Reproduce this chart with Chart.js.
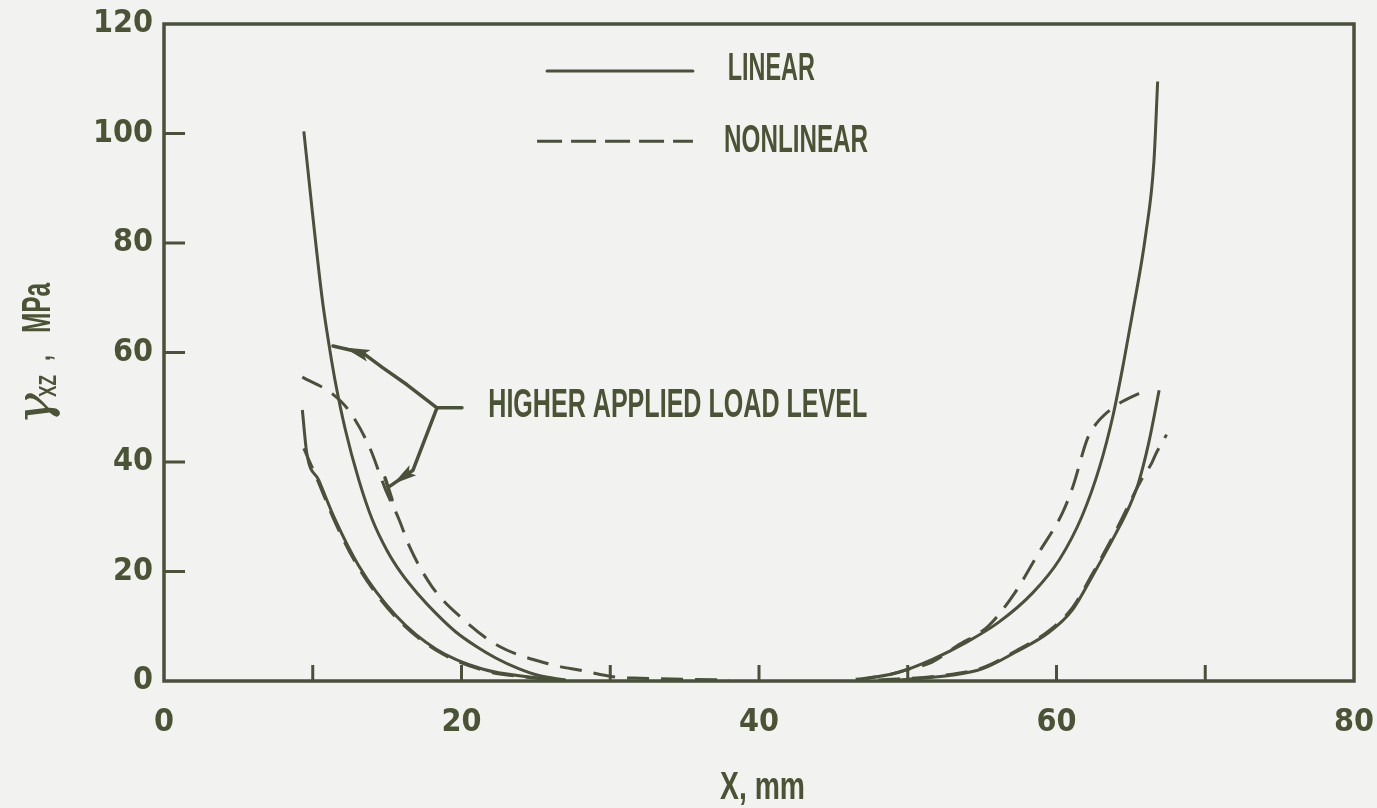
<!DOCTYPE html>
<html>
<head>
<meta charset="utf-8">
<script src="https://cdn.jsdelivr.net/npm/chart.js@4/dist/chart.umd.min.js"></script>
<style>
  html, body { margin: 0; padding: 0; background: #f2f2f0; }
  #c { display: block; }
</style>
</head>
<body>
<canvas id="c" width="1377" height="808"></canvas>
<script>
// Shear stress gamma_xz along X, linear vs nonlinear analysis, two load levels

const xTicks = [0, 10, 20, 30, 40, 50, 60, 70, 80];
const yTicks = [0, 20, 40, 60, 80, 100, 120];

// Linear analysis, higher load, left edge
const linHighLeftX = [9.4, 10.0, 10.65, 11.1, 11.5, 12.2, 13.1, 14.0, 15.0, 16.0, 17.1, 18.3, 19.6, 21.0, 22.3, 23.8, 25.2, 27.0];
const linHighLeftY = [100.4, 85.0, 69.5, 61.3, 54.9, 45.8, 36.7, 29.5, 23.8, 19.5, 15.8, 12.3, 9.0, 6.3, 4.2, 2.3, 1.0, 0.2];
// Linear analysis, lower load, left edge
const linLowLeftX = [9.3, 9.6, 10.4, 11.5, 13.1, 15.6, 18.3, 21.4, 24.7, 27.0];
const linLowLeftY = [49.5, 41.6, 36.7, 29.5, 21.0, 11.9, 5.8, 2.2, 0.7, 0.1];
// Nonlinear analysis, higher load, left edge
const nonHighLeftX = [9.3, 11.3, 12.4, 13.8, 14.9, 15.8, 16.5, 18.0, 20.1, 22.5, 25.9, 28.1, 30.4, 32.0, 35.0, 38.0];
const nonHighLeftY = [55.5, 52.5, 49.5, 42.8, 34.9, 29.5, 24.6, 17.3, 11.3, 6.4, 3.1, 1.9, 0.7, 0.5, 0.3, 0.2];
// Nonlinear analysis, lower load, left edge
const nonLowLeftX = [9.4, 10.4, 11.5, 13.1, 15.6, 18.3, 21.4, 24.7, 27.0];
const nonLowLeftY = [42.5, 36.2, 29.0, 20.6, 11.6, 5.6, 2.0, 0.6, 0.1];

// Linear analysis, higher load, right edge
const linHighRightX = [47.2, 49.4, 51.7, 53.9, 56.1, 58.4, 60.2, 61.7, 62.9, 63.8, 64.5, 65.1, 66.0, 66.55, 66.8];
const linHighRightY = [0.4, 1.6, 4.0, 7.0, 10.7, 16.1, 22.2, 30.0, 39.1, 48.5, 58.0, 67.0, 81.6, 94.9, 109.5];
// Linear analysis, lower load, right edge
const linLowRightX = [49.4, 52.8, 55.0, 57.2, 59.5, 61.1, 62.4, 64.0, 64.9, 65.5, 66.2, 66.9];
const linLowRightY = [0.2, 1.0, 2.2, 5.2, 8.9, 13.1, 19.1, 27.0, 31.9, 36.1, 43.5, 53.1];
// Nonlinear analysis, higher load, right edge
const nonHighRightX = [46.5, 48.5, 50.1, 51.6, 53.3, 55.4, 57.2, 58.8, 60.4, 61.1, 62.1, 62.7, 63.6, 64.4, 66.1];
const nonHighRightY = [0.3, 1.0, 2.2, 3.4, 6.4, 10.0, 16.1, 23.4, 30.7, 35.5, 44.4, 47.1, 49.5, 51.0, 53.2];
// Nonlinear analysis, lower load, right edge
const nonLowRightX = [48.0, 52.0, 55.0, 57.2, 59.5, 61.1, 62.4, 64.0, 65.7, 66.4, 66.7, 67.4];
const nonLowRightY = [0.2, 0.9, 2.4, 5.4, 9.2, 13.5, 19.5, 27.5, 36.7, 39.8, 41.6, 45.0];

const legendLabels = ['LINEAR', 'NONLINEAR'];
const noteText = 'HIGHER APPLIED LOAD LEVEL';

const INK = '#4a5039';
const TEXT_INK = '#4b5335';
const BG = '#f2f2f0';
const TICK_FONT = '"Liberation Sans Narrow", "DejaVu Sans Condensed", "Liberation Sans", sans-serif';
const DASH = [22, 12];

function pts(xs, ys) { return xs.map((x, i) => ({ x: x, y: ys[i] })); }
function series(xs, ys, dashed) {
  return {
    data: pts(xs, ys),
    borderColor: INK,
    borderWidth: 3,
    borderDash: dashed ? DASH : [],
    pointRadius: 0,
    fill: false,
    cubicInterpolationMode: 'monotone'
  };
}

const datasets = [
  series(linHighLeftX, linHighLeftY, false),
  series(linLowLeftX, linLowLeftY, false),
  series(nonHighLeftX, nonHighLeftY, true),
  series(nonLowLeftX, nonLowLeftY, true),
  series(linHighRightX, linHighRightY, false),
  series(linLowRightX, linLowRightY, false),
  series(nonHighRightX, nonHighRightY, true),
  series(nonLowRightX, nonLowRightY, true)
];

// bold text squeezed horizontally to a given width (the typeface is very condensed)
function squeezedText(ctx, str, x, y, size, width, family) {
  ctx.save();
  ctx.font = 'bold ' + size + 'px ' + (family || '"Liberation Sans", "DejaVu Sans", sans-serif');
  const w = ctx.measureText(str).width;
  ctx.translate(x, y);
  ctx.scale(width / w, 1);
  ctx.textAlign = 'left';
  ctx.textBaseline = 'alphabetic';
  ctx.fillText(str, 0, 0);
  ctx.restore();
}

function arrowHead(ctx, fromX, fromY, tipX, tipY, len, half) {
  const a = Math.atan2(tipY - fromY, tipX - fromX);
  ctx.save();
  ctx.translate(tipX, tipY);
  ctx.rotate(a);
  ctx.beginPath();
  ctx.moveTo(0, 0);
  ctx.lineTo(-len, -half);
  ctx.lineTo(-len * 0.8, 0);
  ctx.lineTo(-len, half);
  ctx.closePath();
  ctx.fill();
  ctx.restore();
}

const decorPlugin = {
  id: 'decor',
  beforeDraw(chart) {
    const ctx = chart.ctx;
    ctx.save();
    ctx.fillStyle = BG;
    ctx.fillRect(0, 0, chart.width, chart.height);
    ctx.restore();
  },
  beforeDatasetsDraw(chart) {
    const ctx = chart.ctx;
    const a = chart.chartArea;
    const xs = chart.scales.x, ys = chart.scales.y;
    ctx.save();
    ctx.strokeStyle = INK;
    ctx.lineCap = 'butt';
    // frame
    ctx.lineWidth = 3.5;
    ctx.strokeRect(a.left, a.top, a.right - a.left, a.bottom - a.top);
    // inward tick marks
    ctx.lineWidth = 3;
    xTicks.forEach(v => {
      if (v === xTicks[0] || v === xTicks[xTicks.length - 1]) return;
      const px = xs.getPixelForValue(v);
      ctx.beginPath();
      ctx.moveTo(px, a.bottom);
      ctx.lineTo(px, a.bottom - 16);
      ctx.stroke();
    });
    yTicks.forEach(v => {
      if (v === yTicks[0] || v === yTicks[yTicks.length - 1]) return;
      const py = ys.getPixelForValue(v);
      ctx.beginPath();
      ctx.moveTo(a.left, py);
      ctx.lineTo(a.left + 21, py);
      ctx.stroke();
    });
    ctx.restore();
  },
  afterDatasetsDraw(chart) {
    const ctx = chart.ctx;
    const xs = chart.scales.x, ys = chart.scales.y;
    const X = v => xs.getPixelForValue(v);
    const Y = v => ys.getPixelForValue(v);
    ctx.save();
    ctx.strokeStyle = INK;
    ctx.fillStyle = TEXT_INK;
    ctx.lineWidth = 3;
    ctx.lineCap = 'round';

    // legend
    ctx.beginPath();
    ctx.moveTo(X(25.75), Y(111.4));
    ctx.lineTo(X(35.56), Y(111.4));
    ctx.stroke();
    ctx.save();
    ctx.setLineDash([25, 9]);
    ctx.lineCap = 'butt';
    ctx.beginPath();
    ctx.moveTo(X(25.08), Y(98.6));
    ctx.lineTo(X(35.56), Y(98.6));
    ctx.stroke();
    ctx.restore();
    squeezedText(ctx, legendLabels[0], X(37.9), Y(109.8), 38, 87);
    squeezedText(ctx, legendLabels[1], X(37.65), Y(96.6), 38, 144);

    // annotation: callout arrows to the higher-load curves
    ctx.lineWidth = 3.5;
    ctx.lineJoin = 'round';
    ctx.beginPath();
    ctx.moveTo(X(20.03), Y(49.9));
    ctx.lineTo(X(18.35), Y(49.9));
    ctx.lineTo(X(16.34), Y(54.1));
    ctx.lineTo(X(14.72), Y(57.2));
    ctx.lineTo(X(13.38), Y(59.9));
    ctx.lineTo(X(11.36), Y(61.2));
    ctx.stroke();
    ctx.fillStyle = INK;
    arrowHead(ctx, X(14.0), Y(59.2), X(12.1), Y(60.9), 26, 6);

    ctx.beginPath();
    ctx.moveTo(X(18.35), Y(49.9));
    ctx.lineTo(X(16.74), Y(38.5));
    ctx.lineTo(X(15.19), Y(35.6));
    ctx.stroke();
    arrowHead(ctx, X(16.74), Y(38.5), X(15.4), Y(36.0), 24, 6);
    ctx.beginPath();
    ctx.moveTo(X(14.86), Y(37.1));
    ctx.lineTo(X(15.33), Y(33.1));
    ctx.stroke();

    ctx.fillStyle = TEXT_INK;
    squeezedText(ctx, noteText, X(21.8), Y(48.2), 40, 379);

    // x-axis title
    squeezedText(ctx, 'X, mm', 720, 799, 38, 85);

    // y-axis title, rotated
    ctx.save();
    ctx.translate(50, 425);
    ctx.rotate(-Math.PI / 2);
    ctx.font = 'italic 48px "DejaVu Serif", serif';
    ctx.textBaseline = 'alphabetic';
    const gw = ctx.measureText('\u03b3').width;
    ctx.save();
    ctx.scale(32 / gw, 1);
    ctx.fillText('\u03b3', 0, 0);
    ctx.restore();
    squeezedText(ctx, 'XZ', 28, 6, 24, 22);
    squeezedText(ctx, ',', 64, 0, 30, 6);
    squeezedText(ctx, 'MPa', 92, 0, 40, 50);
    ctx.restore();

    ctx.restore();
  }
};

new Chart(document.getElementById('c'), {
  type: 'line',
  data: { datasets: datasets },
  options: {
    responsive: false,
    animation: false,
    devicePixelRatio: 1,
    layout: { padding: { top: 24, right: 23, left: 0, bottom: 0 } },
    plugins: { legend: { display: false }, tooltip: { enabled: false } },
    scales: {
      x: {
        type: 'linear',
        min: 0, max: 80,
        grid: { display: false, drawTicks: false },
        border: { display: false },
        afterBuildTicks(s) { s.ticks = xTicks.map(v => ({ value: v })); },
        afterFit(s) { s.height = 127; s.paddingLeft = 0; s.paddingRight = 0; },
        ticks: {
          padding: 22,
          autoSkip: false,
          maxRotation: 0,
          color: TEXT_INK,
          font: { family: TICK_FONT, size: 32, weight: 'bold' },
          callback: v => (v % 20 === 0 ? String(v) : '')
        }
      },
      y: {
        type: 'linear',
        min: 0, max: 120,
        grid: { display: false, drawTicks: false },
        border: { display: false },
        afterBuildTicks(s) { s.ticks = yTicks.map(v => ({ value: v })); },
        afterFit(s) { s.width = 164; s.paddingTop = 0; s.paddingBottom = 0; },
        ticks: {
          padding: 11,
          color: TEXT_INK,
          font: { family: TICK_FONT, size: 32, weight: 'bold' },
          callback: v => String(v)
        }
      }
    }
  },
  plugins: [decorPlugin]
});
</script>
</body>
</html>
